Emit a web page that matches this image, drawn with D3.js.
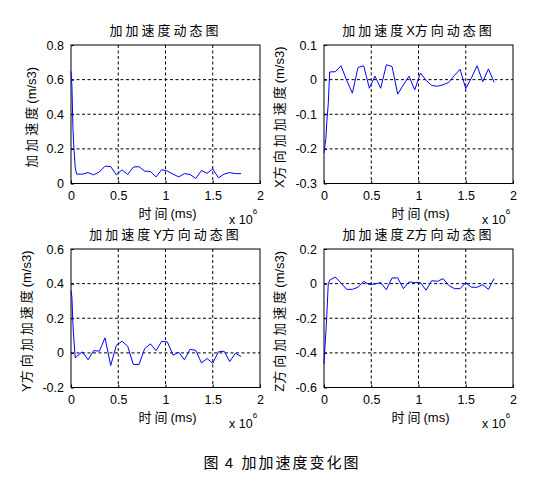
<!DOCTYPE html>
<html>
<head>
<meta charset="utf-8">
<script src="https://d3js.org/d3.v7.min.js"></script>
<style>
  body { margin: 0; background: #fff; }
  text { font-family: "Liberation Sans", "Noto Sans CJK SC", sans-serif; fill: #000; white-space: pre; }
</style>
</head>
<body>
<svg id="chart" width="555" height="499"></svg>
<script>
// time axis, in units of 10^6 ms
var timeX = [0, 0.01, 0.02, 0.03, 0.045, 0.06, 0.12, 0.18, 0.24, 0.30, 0.36, 0.42, 0.48, 0.54, 0.60,
             0.66, 0.72, 0.78, 0.84, 0.90, 0.96, 1.02, 1.08, 1.14, 1.20, 1.26, 1.32, 1.38, 1.44, 1.50,
             1.56, 1.62, 1.68, 1.74, 1.80];

var jerkTotal = [0.647, 0.56, 0.33, 0.21, 0.09, 0.054, 0.054, 0.063, 0.05, 0.067, 0.1, 0.098, 0.05, 0.079, 0.052,
                 0.095, 0.097, 0.071, 0.07, 0.038, 0.08, 0.072, 0.054, 0.038, 0.057, 0.052, 0.029, 0.075, 0.059, 0.084,
                 0.033, 0.054, 0.063, 0.057, 0.057];
var jerkX = [-0.212, -0.19, -0.17, -0.12, -0.07, 0.022, 0.023, 0.04, -0.002, -0.039, 0.035, 0.04, -0.025, 0.01, -0.025,
             0.043, 0.038, -0.042, -0.015, 0.01, -0.03, 0.019, -0.002, -0.017, -0.019, -0.015, -0.008, 0.012, 0.03, -0.026,
             0.005, 0.04, -0.006, 0.031, -0.008];
var jerkY = [0.36, 0.32, 0.17, 0.08, -0.03, -0.02, 0.006, -0.04, 0.013, 0.01, 0.087, -0.073, 0.044, 0.067, 0.038,
             -0.067, -0.067, 0.025, 0.052, 0.013, 0.067, 0.063, -0.013, 0.004, -0.04, 0.021, 0.015, -0.058, -0.033, -0.06,
             0.006, 0.01, -0.05, -0.002, -0.021];
var jerkZ = [-0.465, -0.37, -0.28, -0.18, 0.0, 0.02, 0.038, 0.004, -0.033, -0.033, -0.021, 0.013, -0.006, -0.002, 0.006,
             -0.035, 0.033, 0.033, -0.029, 0.01, 0.006, 0.006, -0.038, 0.017, 0.013, 0.029, -0.01, -0.029, -0.029, 0.006,
             -0.021, -0.021, -0.006, -0.033, 0.029];

var xTicks = [0, 0.5, 1, 1.5, 2];
var yTicksTotal = [0, 0.2, 0.4, 0.6, 0.8];
var yTicksX = [-0.3, -0.2, -0.1, 0, 0.1];
var yTicksY = [-0.2, 0, 0.2, 0.4, 0.6];
var yTicksZ = [-0.6, -0.4, -0.2, 0, 0.2];

var titles = ["加加速度动态图", "加加速度X方向动态图", "加加速度Y方向动态图", "加加速度Z方向动态图"];
var yLabels = ["加加速度(m/s3)", "X方向加加速度(m/s3)", "Y方向加加速度(m/s3)", "Z方向加加速度(m/s3)"];
var xLabel = "时间(ms)";
var caption = "图 4  加加速度变化图";

var svg = d3.select("#chart");
svg.append("rect").attr("width", 555).attr("height", 499).attr("fill", "#fff");

// puts chinese runs in their own tspan so they get the wide spacing
function richText(sel, str, sp) {
  var runs = str.match(/[\u4e00-\u9fff]+|[^\u4e00-\u9fff]+/g);
  runs.forEach(function(r) {
    var cjk = /[\u4e00-\u9fff]/.test(r);
    sel.append("tspan").attr("letter-spacing", cjk ? sp : 0).text(r);
  });
  return sel;
}

var panels = [
  {x0: 71,  y0: 45,  ys: jerkTotal, ticks: yTicksTotal},
  {x0: 324, y0: 45,  ys: jerkX,     ticks: yTicksX},
  {x0: 71,  y0: 249, ys: jerkY,     ticks: yTicksY},
  {x0: 324, y0: 249, ys: jerkZ,     ticks: yTicksZ}
];
var pw = 189, ph = 138.5;

panels.forEach(function(p, i) {
  var g = svg.append("g").attr("transform", "translate(" + p.x0 + "," + p.y0 + ")");
  var x = d3.scaleLinear().domain([0, 2]).range([0, pw]);
  var y = d3.scaleLinear().domain(d3.extent(p.ticks)).range([ph, 0]);

  // grid
  g.selectAll(".vg").data(xTicks.slice(1, -1)).enter().append("line")
    .attr("x1", function(d) { return x(d); }).attr("x2", function(d) { return x(d); })
    .attr("y1", 0).attr("y2", ph)
    .attr("stroke", "#000").attr("stroke-width", 1).attr("stroke-dasharray", "3,2.5");
  g.selectAll(".hg").data(p.ticks.slice(1, -1)).enter().append("line")
    .attr("y1", function(d) { return y(d); }).attr("y2", function(d) { return y(d); })
    .attr("x1", 0).attr("x2", pw)
    .attr("stroke", "#000").attr("stroke-width", 1).attr("stroke-dasharray", "3,2.5");

  // axes
  var ax = g.append("g").attr("transform", "translate(0," + ph + ")")
    .call(d3.axisBottom(x).tickValues(xTicks).tickFormat(function(d) { return String(d); })
      .tickSizeInner(-3).tickSizeOuter(0).tickPadding(8));
  var ay = g.append("g")
    .call(d3.axisLeft(y).tickValues(p.ticks).tickFormat(function(d) { return String(d); })
      .tickSizeInner(-3).tickSizeOuter(0).tickPadding(7));
  [ax, ay].forEach(function(a) {
    a.select(".domain").remove();
    a.selectAll("text").attr("font-size", 12.5).attr("font-family", "Liberation Sans").attr("fill", "#000");
    a.selectAll("line").attr("stroke", "#000");
  });

  // box
  g.append("rect").attr("width", pw).attr("height", ph)
    .attr("fill", "none").attr("stroke", "#000").attr("stroke-width", 1);

  // data line
  var pts = timeX.map(function(t, k) { return [t, p.ys[k]]; });
  g.append("path").datum(pts)
    .attr("fill", "none").attr("stroke", "#0000ff").attr("stroke-width", 1)
    .attr("d", d3.line().x(function(d) { return x(d[0]); }).y(function(d) { return y(d[1]); }));

  // title
  richText(g.append("text").attr("x", pw / 2).attr("y", -10).attr("text-anchor", "middle")
    .attr("font-size", 13), titles[i], 3);

  // x label
  richText(g.append("text").attr("x", pw / 2 + 2).attr("y", ph + 34).attr("text-anchor", "middle")
    .attr("font-size", 13), xLabel, 3);

  // x 10^6
  var ex = g.append("text").attr("x", 158).attr("y", ph + 40.5).attr("font-size", 12.5);
  ex.append("tspan").text("x 10");
  ex.append("tspan").attr("font-size", 8).attr("dy", -10).text("6");

  // y label, offset from widest tick label
  var wMax = d3.max(ay.selectAll("text").nodes(), function(n) { return n.getComputedTextLength(); });
  var lx = -(wMax + 7 + 11);
  richText(g.append("text").attr("transform", "translate(" + lx + "," + (ph / 2 + 3) + ") rotate(-90)")
    .attr("text-anchor", "middle").attr("font-size", 13), yLabels[i], 3);
});

richText(svg.append("text").attr("x", 282).attr("y", 468).attr("text-anchor", "middle")
  .attr("font-size", 15), caption, 2);
</script>
</body>
</html>
